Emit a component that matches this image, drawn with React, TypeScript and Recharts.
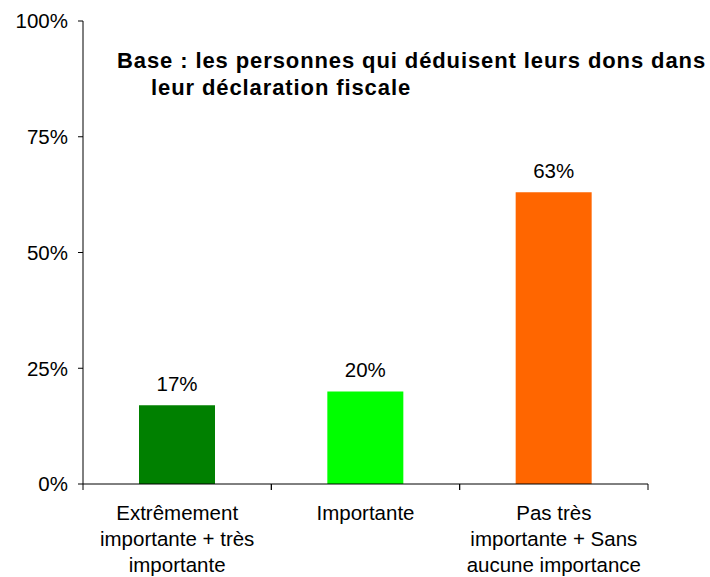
import React from "react";
import { BarChart, Bar, XAxis, YAxis, Cell, LabelList } from "recharts";

const categories = [
  "Extrêmement\nimportante + très\nimportante",
  "Importante",
  "Pas très\nimportante + Sans\naucune importance",
];
const values = [0.17, 0.2, 0.63];
const colors = ["#008000", "#00FF00", "#FF6600"];
const yTicks = [0, 0.25, 0.5, 0.75, 1];
const titleLines = [
  "Base : les personnes qui déduisent leurs dons dans",
  "leur déclaration fiscale",
];

const data = categories.map((c, i) => ({ name: c, value: values[i] }));

const FONT = "'Liberation Sans', Arial, sans-serif";
const W = 710;
const H = 577;
const LEFT = 83;
const RIGHT = 648;
const TOP = 21;
const BOTTOM = 484;
const BAND = (RIGHT - LEFT) / categories.length;
const FS = 20.5;

const pct = (v: number) => `${Math.round(v * 100)}%`;

const XTick = (props: any) => {
  const { x, payload } = props;
  const lines = String(payload.value).split("\n");
  return (
    <g>
      <line x1={x - BAND / 2} y1={BOTTOM} x2={x - BAND / 2} y2={BOTTOM + 6} stroke="#000" strokeWidth={1} />
      <line x1={x + BAND / 2} y1={BOTTOM} x2={x + BAND / 2} y2={BOTTOM + 6} stroke="#000" strokeWidth={1} />
      <text textAnchor="middle" fontFamily={FONT} fontSize={FS} fill="#000">
        {lines.map((l, i) => (
          <tspan key={i} x={x} y={BOTTOM + 36 + i * 26}>
            {l}
          </tspan>
        ))}
      </text>
    </g>
  );
};

export default function App() {
  return (
    <div style={{ position: "absolute", left: 0, top: 0, width: W, height: H, background: "#fff" }}>
      <BarChart
        width={W}
        height={H}
        data={data}
        margin={{ top: TOP, right: W - RIGHT, left: 0, bottom: 0 }}
      >
        <YAxis
          width={LEFT}
          domain={[0, 1]}
          ticks={yTicks}
          tickFormatter={pct}
          tickSize={5}
          tickMargin={10}
          axisLine={{ stroke: "#000", strokeWidth: 1 }}
          tickLine={{ stroke: "#000", strokeWidth: 1 }}
          tick={{ fill: "#000", fontFamily: FONT, fontSize: FS }}
          interval={0}
        />
        <XAxis
          dataKey="name"
          axisLine={{ stroke: "#000", strokeWidth: 1 }}
          tickLine={false}
          tick={<XTick />}
          interval={0}
          height={H - BOTTOM}
        />
        <Bar dataKey="value" isAnimationActive={false} barSize={76}>
          {data.map((_, i) => (
            <Cell key={i} fill={colors[i]} />
          ))}
          <LabelList
            dataKey="value"
            position="top"
            offset={14}
            formatter={(v: any) => pct(Number(v))}
            style={{ fill: "#000", fontFamily: FONT, fontSize: FS }}
          />
        </Bar>
      </BarChart>
      <div
        style={{
          position: "absolute",
          left: 117,
          top: 47,
          fontFamily: FONT,
          fontWeight: "bold",
          fontSize: 22,
          lineHeight: "27px",
          letterSpacing: 0.9,
          color: "#000",
          whiteSpace: "nowrap",
        }}
      >
        <div>{titleLines[0]}</div>
        <div style={{ paddingLeft: 34 }}>{titleLines[1]}</div>
      </div>
    </div>
  );
}
